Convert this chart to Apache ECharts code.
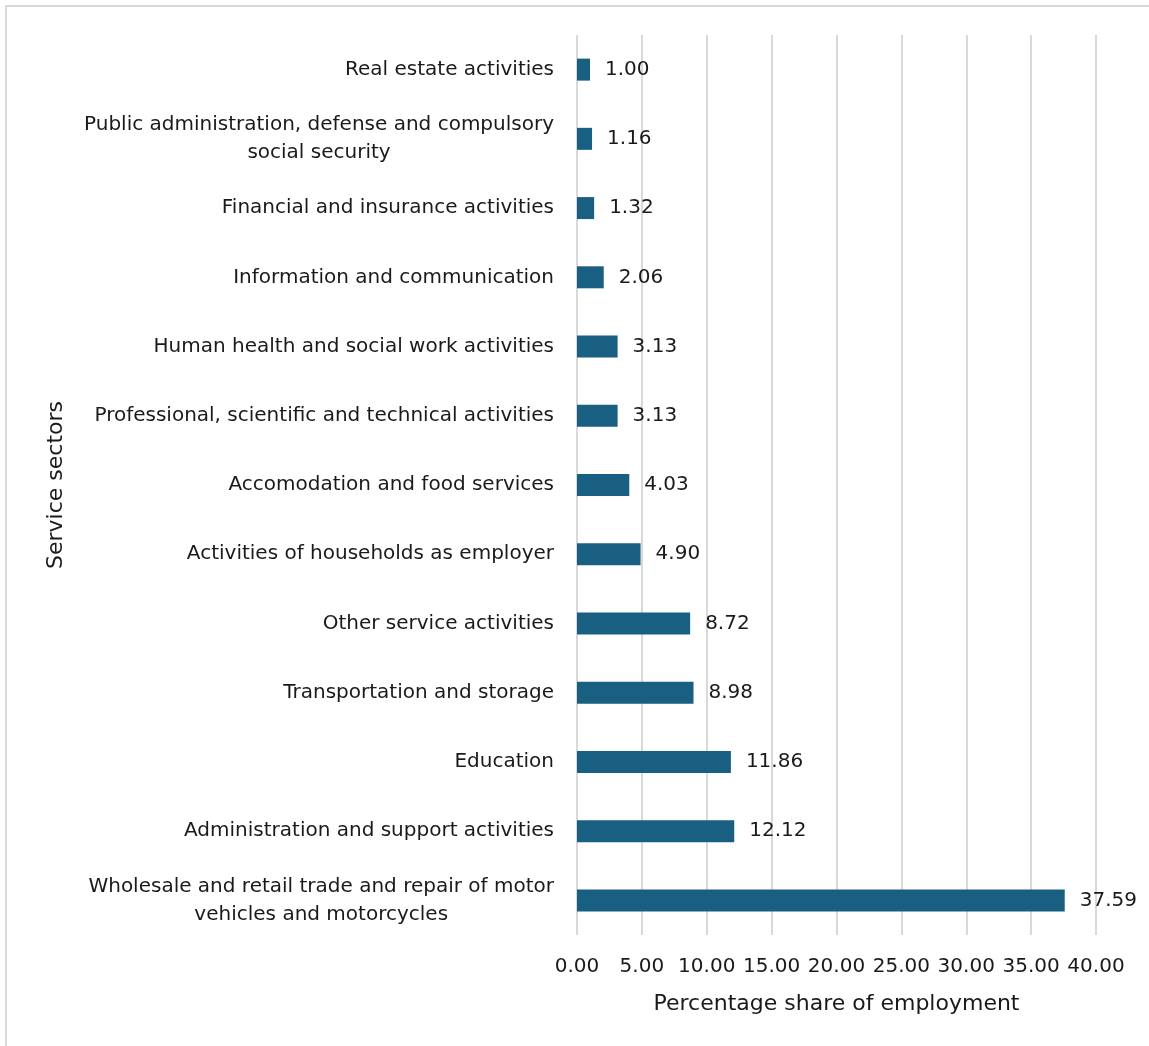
<!DOCTYPE html>
<html><head><meta charset="utf-8">
<script src="https://cdn.jsdelivr.net/npm/echarts@6/dist/echarts.min.js"></script>
<style>
html,body{margin:0;padding:0;background:#fff;}
#frame{position:absolute;left:5px;top:5px;width:1160px;height:1060px;border:2px solid #d9d9d9;box-sizing:border-box;}
#main{position:absolute;left:0;top:0;width:1149px;height:1046px;}
</style></head>
<body>
<div id="frame"></div>
<div id="main"></div>
<script>
const categories = [
  "Wholesale and retail trade and repair of motor\nvehicles and motorcycles",
  "Administration and support activities",
  "Education",
  "Transportation and storage",
  "Other service activities",
  "Activities of households as employer",
  "Accomodation and food services",
  "Professional, scientific and technical activities",
  "Human health and social work activities",
  "Information and communication",
  "Financial and insurance activities",
  "Public administration, defense and compulsory\nsocial security",
  "Real estate activities"
];
const values = [37.59, 12.12, 11.86, 8.98, 8.72, 4.90, 4.03, 3.13, 3.13, 2.06, 1.32, 1.16, 1.00];
const xTicks = [0, 5, 10, 15, 20, 25, 30, 35, 40];

const FONT = 'DejaVu Sans';
const chart = echarts.init(document.getElementById('main'), null, {renderer: 'canvas'});
chart.setOption({
  animation: false,
  backgroundColor: 'transparent',
  grid: {left: 577, right: 53, top: 35, bottom: 111, containLabel: false},
  xAxis: {
    type: 'value', min: xTicks[0], max: xTicks[xTicks.length - 1], interval: 5,
    name: 'Percentage share of employment', nameLocation: 'middle', nameGap: 58,
    nameTextStyle: {fontFamily: FONT, fontSize: 22, color: '#1a1a1a'},
    axisLine: {show: false}, axisTick: {show: false},
    axisLabel: {fontFamily: FONT, fontSize: 20, color: '#1a1a1a', margin: 22,
      formatter: v => v.toFixed(2)},
    splitLine: {show: true, lineStyle: {color: '#d9d9d9', width: 2}}
  },
  yAxis: {
    type: 'category', data: categories,
    name: 'Service sectors', nameLocation: 'middle', nameGap: 510, nameRotate: 90,
    nameTextStyle: {fontFamily: FONT, fontSize: 22, color: '#1a1a1a'},
    axisLine: {show: false}, axisTick: {show: false},
    axisLabel: {fontFamily: FONT, fontSize: 20, color: '#1a1a1a', margin: 23, lineHeight: 28,
      formatter: v => v.split('\n').map(s => '{c|' + s + '}').join('\n'),
      rich: {c: {align: 'center', fontFamily: FONT, fontSize: 20, color: '#1a1a1a', lineHeight: 28}}},
    splitLine: {show: false}
  },
  series: [{
    type: 'bar', data: values, barWidth: 22,
    itemStyle: {color: '#185f81'},
    label: {show: true, position: 'right', distance: 15, fontFamily: FONT, fontSize: 20,
      color: '#1a1a1a', formatter: p => p.value.toFixed(2)}
  }]
});
</script>
</body></html>
